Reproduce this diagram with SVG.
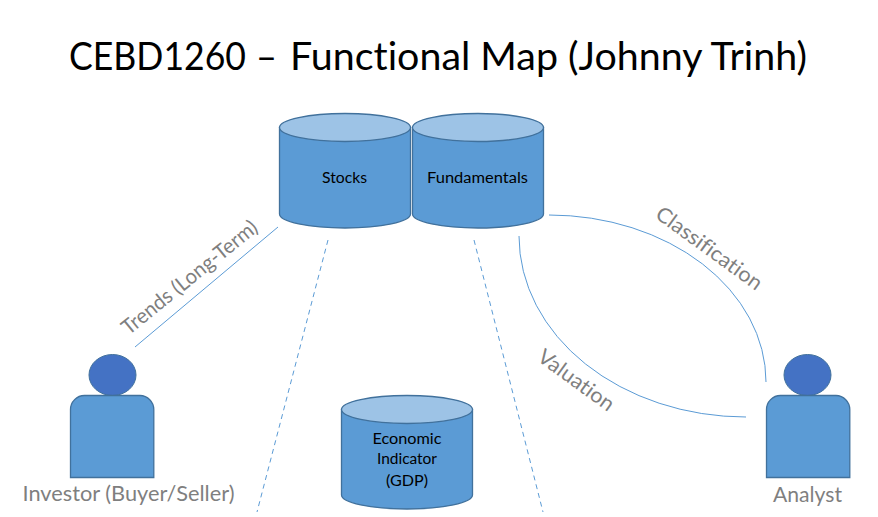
<svg xmlns="http://www.w3.org/2000/svg" width="878" height="517" viewBox="0 0 878 517">
<style>
text{font-family:"Lato","Carlito","Open Sans",sans-serif;font-variant-ligatures:none}
.fill{fill:#5b9bd5;stroke:#41719c;stroke-width:1.3}
.top{fill:#9dc3e6;stroke:#41719c;stroke-width:1.3}
.head{fill:#4472c4;stroke:#41719c;stroke-width:1}
.conn{fill:none;stroke:#5b9bd5;stroke-width:1}
.dash{stroke-dasharray:5 4}
.lbl{fill:#000;font-size:15.500px;text-anchor:middle}
.grey{fill:#7f7f7f;font-size:21px;text-anchor:middle}
</style>
<rect width="878" height="517" fill="#fff"/>
<text id="title" y="70" font-size="38" fill="#000"><tspan x="69" textLength="177" lengthAdjust="spacingAndGlyphs">CEBD1260</tspan> <tspan x="256" textLength="21" lengthAdjust="spacingAndGlyphs">–</tspan> <tspan x="290" textLength="517" lengthAdjust="spacingAndGlyphs">Functional Map (Johnny Trinh)</tspan></text>
<g id="connectors">
<line class="conn" x1="278" y1="227" x2="135" y2="347"/>
<line class="conn dash" x1="328" y1="240" x2="257" y2="512"/>
<line class="conn dash" x1="474" y1="240" x2="543" y2="512"/>
<path class="conn" d="M549 215A217 167 0 0 1 766 382"/>
<path class="conn" d="M519 236A227 181 0 0 0 746 417"/>
</g>
<g id="stocks">
<path class="fill" d="M279.500 127.500V214A65.500 14 0 0 0 410.500 214V127.500Z"/>
<ellipse class="top" cx="345" cy="127.500" rx="65.500" ry="14"/>
<text class="lbl" x="344.500" y="183" textLength="45" lengthAdjust="spacingAndGlyphs">Stocks</text>
</g>
<g id="fundamentals">
<path class="fill" d="M412.500 127.500V214A65.500 14 0 0 0 543.500 214V127.500Z"/>
<ellipse class="top" cx="478" cy="127.500" rx="65.500" ry="14"/>
<text class="lbl" x="477.500" y="183" textLength="101" lengthAdjust="spacingAndGlyphs">Fundamentals</text>
</g>
<g id="economic">
<path class="fill" d="M341.500 409.500V495A65.500 14 0 0 0 472.500 495V409.500Z"/>
<ellipse class="top" cx="407" cy="409.500" rx="65.500" ry="14"/>
<text class="lbl" x="407" y="444" textLength="69" lengthAdjust="spacingAndGlyphs">Economic</text>
<text class="lbl" x="407" y="464" textLength="60" lengthAdjust="spacingAndGlyphs">Indicator</text>
<text class="lbl" x="407" y="486" textLength="42" lengthAdjust="spacingAndGlyphs">(GDP)</text>
</g>
<g id="investor">
<ellipse class="head" cx="112.500" cy="375" rx="23.500" ry="20.500"/>
<path class="fill" d="M70.500 477.500V409.500A14 14 0 0 1 84.500 395.500H140A14 14 0 0 1 153.800 409.500V477.500Z"/>
<text class="grey" x="128.500" y="501" textLength="212" lengthAdjust="spacingAndGlyphs">Investor (Buyer/Seller)</text>
</g>
<g id="analyst">
<ellipse class="head" cx="807.500" cy="375" rx="23.500" ry="20.500"/>
<path class="fill" d="M766.500 477.500V409.500A14 14 0 0 1 780.500 395.500H836A14 14 0 0 1 849.800 409.500V477.500Z"/>
<text class="grey" x="807.500" y="502" textLength="69" lengthAdjust="spacingAndGlyphs">Analyst</text>
</g>
<g id="labels">
<text class="grey" transform="translate(194 283) rotate(-39)" textLength="168" lengthAdjust="spacingAndGlyphs">Trends (Long-Term)</text>
<text class="grey" transform="translate(705 254) rotate(36)" textLength="126" lengthAdjust="spacingAndGlyphs">Classification</text>
<text class="grey" transform="translate(572 386) rotate(36)" textLength="89" lengthAdjust="spacingAndGlyphs">Valuation</text>
</g>
</svg>
